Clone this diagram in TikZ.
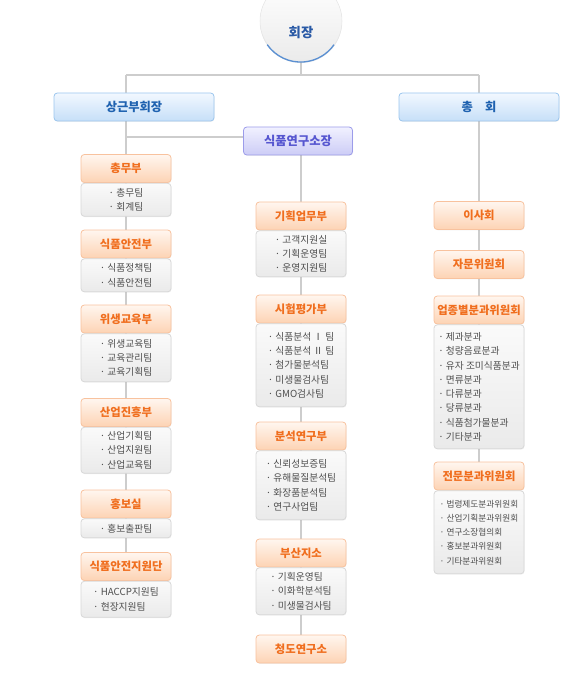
\documentclass[tikz,border=0pt]{standalone}
\usepackage{fontspec}
\setmainfont{Noto Sans CJK KR}
\usetikzlibrary{positioning, backgrounds, shadows}
\definecolor{lineGray}{HTML}{CDCDCD}
\definecolor{chiefTop}{HTML}{F2F8FF}
\definecolor{chiefBot}{HTML}{C6DFF8}
\definecolor{chiefLine}{HTML}{9CC6EE}
\definecolor{chiefText}{HTML}{1F62B0}
\definecolor{instTop}{HTML}{F1F1FF}
\definecolor{instBot}{HTML}{CCCCF6}
\definecolor{instLine}{HTML}{9C9CEA}
\definecolor{instText}{HTML}{5656D0}
\definecolor{deptTop}{HTML}{FFF6EF}
\definecolor{deptBot}{HTML}{FDD3B4}
\definecolor{deptLine}{HTML}{F8C29E}
\definecolor{deptText}{HTML}{F06E1E}
\definecolor{teamTop}{HTML}{FAFAFA}
\definecolor{teamBot}{HTML}{EAEAEA}
\definecolor{teamLine}{HTML}{D8D8D8}
\definecolor{teamText}{HTML}{4F4F4F}
\definecolor{chairRim}{HTML}{5B90D2}
\definecolor{chairText}{HTML}{2A5AA6}

\begin{document}
\begin{tikzpicture}[x=0.75pt, y=-0.75pt,
    chief/.style={rectangle, rounded corners=2.5pt, top color=chiefTop, bottom color=chiefBot,
      draw=chiefLine, line width=0.6pt, minimum width=120pt, minimum height=21pt,
      font=\fontsize{9.2}{10}\selectfont\bfseries, text=chiefText,
      drop shadow={opacity=0.12, shadow xshift=0.4pt, shadow yshift=-0.6pt}},
    inst/.style={chief, top color=instTop, bottom color=instBot, draw=instLine,
      text=instText, minimum width=81.75pt},
    dept/.style={rectangle, rounded corners=2.5pt, top color=deptTop, bottom color=deptBot,
      draw=deptLine, line width=0.6pt, minimum width=67.5pt, minimum height=21pt, inner xsep=1pt,
      font=\fontsize{8.5}{10}\selectfont\bfseries, text=deptText,
      drop shadow={opacity=0.12, shadow xshift=0.4pt, shadow yshift=-0.6pt}},
    team/.style={rectangle, rounded corners=2.5pt, top color=teamTop, bottom color=teamBot,
      draw=teamLine, line width=0.6pt, minimum width=67.5pt, align=left, inner ysep=2pt,
      inner xsep=1pt, font=\fontsize{7.3}{10.7}\selectfont, text=teamText, below=0pt of #1,
      drop shadow={opacity=0.12, shadow xshift=0.4pt, shadow yshift=-0.6pt}},
    link/.style={draw=lineGray, line width=1.5pt}]
    \useasboundingbox (0,0) rectangle (580,695);
    % 회장
    \begin{scope}
      \clip (0,0) rectangle (580,695);
      \node[circle, minimum size=61.5pt, top color=white, bottom color=black!8, draw=black!10,
        line width=0.4pt, drop shadow={opacity=0.15, shadow xshift=0pt, shadow yshift=-0.8pt}] (chair) at (301,21) {};
      \draw[chairRim, line width=1pt] (chair.215) arc[start angle=215, end angle=325, radius=30.6pt];
    \end{scope}
    \node[font=\fontsize{10}{11}\selectfont\bfseries, text=chairText] (chairName) at (301,33) {회장};
    \coordinate (jL) at (126,75);
    \coordinate (jR) at (479,75);
    \coordinate (jM) at (126,137);

    \node[chief] (vice) at (134,107) {상근부회장};
    \node[chief] (assem) at (479,107) {총\quad 회};
    \node[inst] (inst) at (298,141) {식품연구소장};

    % 상근부회장 아래
    \node[dept] (l1) at (126,168.5) {총무부};
    \node[team=l1, minimum height=24.75pt] (l1t) {· 총무팀\\· 회계팀};
    \node[dept] (l2) at (126,244) {식품안전부};
    \node[team=l2, minimum height=24.75pt] (l2t) {· 식품정책팀\\· 식품안전팀};
    \node[dept] (l3) at (126,319) {위생교육부};
    \node[team=l3, minimum height=36pt] (l3t) {· 위생교육팀\\· 교육관리팀\\· 교육기획팀};
    \node[dept] (l4) at (126,412.5) {산업진흥부};
    \node[team=l4, minimum height=34.5pt] (l4t) {· 산업기획팀\\· 산업지원팀\\· 산업교육팀};
    \node[dept] (l5) at (126,504) {홍보실};
    \node[team=l5, minimum height=14.25pt] (l5t) {· 홍보출판팀};
    \node[dept] (l6) at (126,566.5) {식품안전지원단};
    \node[team=l6, minimum height=27pt] (l6t) {· HACCP지원팀\\· 현장지원팀};

    % 식품연구소장 아래
    \node[dept] (m1) at (301,216) {기획업무부};
    \node[team=m1, minimum height=34.5pt] (m1t) {· 고객지원실\\· 기획운영팀\\· 운영지원팀};
    \node[dept] (m2) at (301,309) {시험평가부};
    \node[team=m2, minimum height=62.25pt] (m2t) {· 식품분석 Ⅰ 팀\\· 식품분석 Ⅱ 팀\\· 첨가물분석팀\\· 미생물검사팀\\· GMO검사팀};
    \node[dept] (m3) at (301,436) {분석연구부};
    \node[team=m3, minimum height=51.75pt] (m3t) {· 신뢰성보증팀\\· 유해물질분석팀\\· 화장품분석팀\\· 연구사업팀};
    \node[dept] (m4) at (301,553) {부산지소};
    \node[team=m4, minimum height=35.25pt] (m4t) {· 기획운영팀\\· 이화학분석팀\\· 미생물검사팀};
    \node[dept] (m5) at (301,649) {청도연구소};

    % 총회 아래
    \node[dept] (r1) at (479,215.5) {이사회};
    \node[dept] (r2) at (479,264.5) {자문위원회};
    \node[dept] (r3) at (479,310) {업종별분과위원회};
    \node[team=r3, minimum height=93pt] (r3t) {· 제과분과\\· 청량음료분과\\· 유자 조미식품분과\\· 면류분과\\· 다류분과\\· 당류분과\\· 식품첨가물분과\\· 기타분과};
    \node[dept] (r4) at (479,476) {전문분과위원회};
    \node[team=r4, minimum height=62.25pt, font=\fontsize{6.5}{10.7}\selectfont] (r4t) {· 법령제도분과위원회\\· 산업기획분과위원회\\· 연구소장협의회\\· 홍보분과위원회\\· 기타분과위원회};

    \begin{scope}[on background layer]
      \draw[link] (chair) -- (chair |- jL);
      \draw[link] (jL) -- (jR);
      \draw[link] (jL) -- (l6.north);
      \draw[link] (jR) -- (r4.north);
      \draw[link] (jM) -- (jM -| inst.west);
      \draw[link] (inst.south -| m1) -- (m5.north);
    \end{scope}
  \end{tikzpicture}
\end{document}
